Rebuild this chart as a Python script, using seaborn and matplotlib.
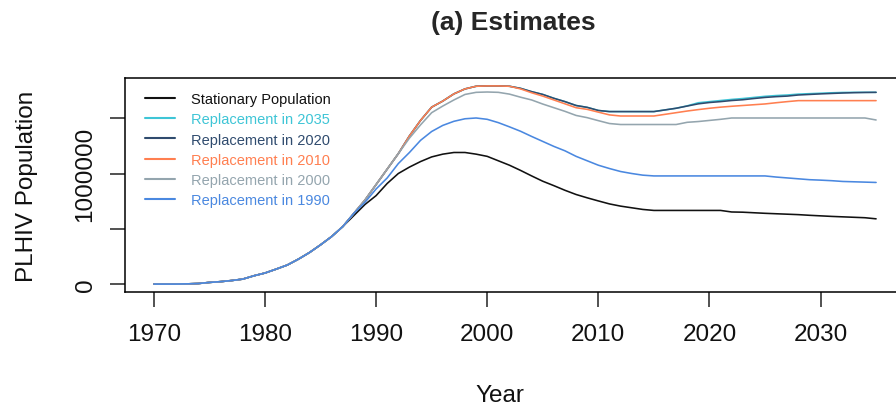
import numpy as np
import pandas as pd
import matplotlib
matplotlib.use("Agg")
import matplotlib.pyplot as plt
import seaborn as sns

years = list(range(1970, 2036))

# shared early epidemic (1970-1988)
early = [0, 0, 0, 2e3, 5e3, 15e3, 22e3, 32e3, 45e3, 75e3,
         100e3, 135e3, 172e3, 225e3, 285e3, 355e3, 430e3, 520e3, 620e3]

stationary = early + [
    720e3, 800e3, 910e3, 1000e3, 1058e3, 1108e3, 1150e3, 1175e3, 1190e3, 1190e3,
    1175e3, 1155e3, 1115e3, 1075e3, 1028e3, 978e3, 930e3, 890e3, 848e3, 810e3,
    780e3, 752e3, 725e3, 705e3, 690e3, 675e3, 666e3, 666e3, 666e3, 666e3,
    666e3, 666e3, 666e3, 652e3, 650e3, 645e3, 640e3, 636e3, 632e3, 628e3,
    622e3, 617e3, 612e3, 608e3, 604e3, 600e3, 590e3]

repl_1990 = early[:-1] + [640e3,
    740e3, 860e3, 960e3, 1090e3, 1190e3, 1300e3, 1380e3, 1435e3, 1472e3, 1495e3,
    1502e3, 1490e3, 1460e3, 1422e3, 1382e3, 1335e3, 1290e3, 1245e3, 1205e3, 1155e3,
    1115e3, 1075e3, 1045e3, 1018e3, 1000e3, 985e3, 978e3, 978e3, 978e3, 978e3,
    978e3, 978e3, 978e3, 978e3, 978e3, 978e3, 978e3, 968e3, 960e3, 952e3,
    944e3, 940e3, 935e3, 928e3, 925e3, 922e3, 919e3]

repl_2000 = early[:-1] + [640e3,
    760e3, 900e3, 1040e3, 1180e3, 1320e3, 1440e3, 1550e3, 1610e3, 1665e3, 1715e3,
    1734e3, 1737e3, 1734e3, 1718e3, 1690e3, 1665e3, 1628e3, 1595e3, 1562e3, 1525e3,
    1505e3, 1478e3, 1452e3, 1443e3, 1443e3, 1443e3, 1443e3, 1443e3, 1443e3, 1463e3,
    1470e3, 1480e3, 1490e3, 1502e3, 1502e3, 1502e3, 1502e3, 1502e3, 1502e3, 1502e3,
    1502e3, 1502e3, 1502e3, 1502e3, 1502e3, 1502e3, 1484e3]

repl_2010 = early[:-1] + [640e3,
    760e3, 900e3, 1040e3, 1180e3, 1340e3, 1480e3, 1600e3, 1655e3, 1720e3, 1765e3,
    1789e3, 1792e3, 1792e3, 1789e3, 1765e3, 1730e3, 1700e3, 1665e3, 1630e3, 1595e3,
    1580e3, 1555e3, 1530e3, 1520e3, 1520e3, 1520e3, 1520e3, 1535e3, 1550e3, 1565e3,
    1578e3, 1590e3, 1600e3, 1608e3, 1615e3, 1622e3, 1629e3, 1640e3, 1650e3, 1659e3,
    1659e3, 1659e3, 1659e3, 1659e3, 1659e3, 1659e3, 1659e3]

repl_2020 = early[:-1] + [640e3,
    760e3, 900e3, 1040e3, 1180e3, 1340e3, 1480e3, 1600e3, 1655e3, 1720e3, 1765e3,
    1789e3, 1792e3, 1792e3, 1789e3, 1770e3, 1740e3, 1715e3, 1680e3, 1650e3, 1615e3,
    1598e3, 1570e3, 1560e3, 1560e3, 1560e3, 1560e3, 1560e3, 1575e3, 1590e3, 1610e3,
    1630e3, 1642e3, 1650e3, 1660e3, 1667e3, 1678e3, 1688e3, 1695e3, 1700e3, 1710e3,
    1715e3, 1720e3, 1724e3, 1728e3, 1731e3, 1733e3, 1734e3]

repl_2035 = early[:-1] + [640e3,
    760e3, 900e3, 1040e3, 1180e3, 1340e3, 1480e3, 1600e3, 1655e3, 1720e3, 1765e3,
    1789e3, 1792e3, 1792e3, 1789e3, 1770e3, 1740e3, 1715e3, 1680e3, 1650e3, 1615e3,
    1598e3, 1570e3, 1560e3, 1560e3, 1560e3, 1560e3, 1560e3, 1575e3, 1590e3, 1612e3,
    1640e3, 1650e3, 1660e3, 1670e3, 1678e3, 1688e3, 1698e3, 1705e3, 1710e3, 1718e3,
    1722e3, 1726e3, 1730e3, 1733e3, 1734e3, 1734e3, 1734e3]

labels = ["Stationary Population", "Replacement in 2035", "Replacement in 2020",
          "Replacement in 2010", "Replacement in 2000", "Replacement in 1990"]
series = [stationary, repl_2035, repl_2020, repl_2010, repl_2000, repl_1990]
colors = ["#111111", "#3EC5D6", "#2F4B6E", "#FF7F50", "#94A5AE", "#4A88E0"]

x_ticks = [1970, 1980, 1990, 2000, 2010, 2020, 2030]
y_ticks = [0, 500000, 1000000, 1500000]
y_tick_labels = ["0", "", "1000000", ""]

sns.set_style("ticks")
plt.rcParams["font.family"] = ["Liberation Sans", "DejaVu Sans"]

fig = plt.figure(figsize=(8.96, 4.10), dpi=100)
ax = fig.add_axes([125 / 896, 1 - 293 / 410, 780 / 896, 214 / 410])

lines = {}
for lab, vals, col in zip(labels, series, colors):
    df = pd.DataFrame({"Year": years, "PLHIV": vals})
    sns.lineplot(data=df, x="Year", y="PLHIV", color=col, lw=1.15, ax=ax,
                 label=lab, legend=False)
    lines[lab] = ax.lines[-1]

# blue curve on top so the shared early segment shows in its colour
lines["Replacement in 1990"].set_zorder(3)

ymax = max(max(s) for s in series)
ax.set_xlim(1970 - 0.04 * 65, 2035 + 0.04 * 65)
ax.set_ylim(-0.04 * ymax, 1.04 * ymax)
ax.set_xticks(x_ticks)
ax.set_xticklabels([str(t) for t in x_ticks])
ax.set_yticks(y_ticks)
ax.set_yticklabels(y_tick_labels, rotation=90, va="center")

for sp in ax.spines.values():
    sp.set_visible(True)
    sp.set_color("black")
    sp.set_linewidth(1.1)

ax.tick_params(axis="both", direction="out", length=10.5, width=1.1,
               color="#222222", labelsize=17.5, labelcolor="#111111")
ax.tick_params(axis="x", pad=12)
ax.tick_params(axis="y", pad=10)

ax.set_xlabel("Year", fontsize=17.5, color="#111111")
ax.set_ylabel("PLHIV Population", fontsize=17.5, color="#111111")
ax.xaxis.set_label_coords(0.5 + (500 - 515) / 780, -0.43)
ax.yaxis.set_label_coords(-0.112, 0.5)

ax.set_title("(a) Estimates", fontsize=19, fontweight="bold", pad=35,
             x=(513 - 125) / 780)

leg = ax.legend([lines[l] for l in labels], labels, loc="upper left",
                bbox_to_anchor=(0.012, 0.982), frameon=False, fontsize=10.5,
                handlelength=2.1, handletextpad=1.1, labelspacing=0.43,
                borderpad=0.2, labelcolor="linecolor")
for h in leg.get_lines():
    h.set_linewidth(1.5)

fig.savefig("out.png", dpi=100)
